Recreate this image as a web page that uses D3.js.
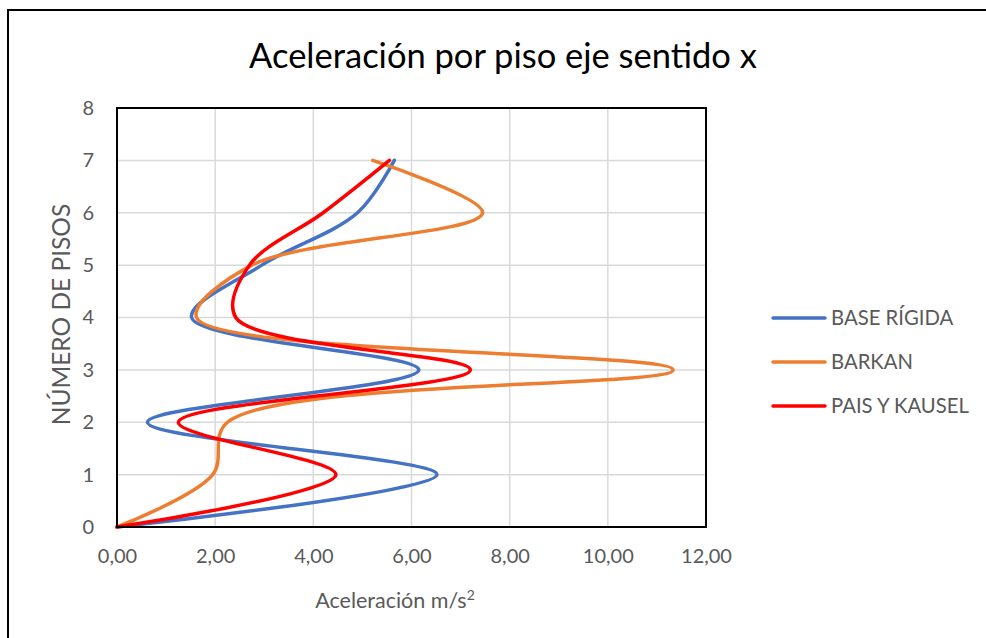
<!DOCTYPE html>
<html>
<head>
<meta charset="utf-8">
<script src="https://cdn.jsdelivr.net/npm/d3@7"></script>
<style>
  html, body { margin: 0; padding: 0; background: #fff; }
  svg { display: block; }
  text { font-family: Lato, "Open Sans", sans-serif; }
</style>
</head>
<body>
<svg id="chart" width="986" height="638"></svg>
<script>
// ---- data ----
const floors = [0, 1, 2, 3, 4, 5, 6, 7];
const baseRigida = [0, 6.52, 0.62, 6.15, 1.52, 2.95, 4.9, 5.65];
const barkan     = [0, 1.95, 2.25, 11.33, 1.62, 2.75, 7.45, 5.21];
const paisKausel = [0, 4.46, 1.25, 7.2, 2.42, 2.7, 4.2, 5.55];
const seriesNames = ["BASE RÍGIDA", "BARKAN", "PAIS Y KAUSEL"];
const xTicks = [0, 2, 4, 6, 8, 10, 12];
const yTicks = [0, 1, 2, 3, 4, 5, 6, 7, 8];
const title = "Aceleración por piso eje sentido x";
const xTitle = "Aceleración m/s";
const yTitle = "NÚMERO DE PISOS";

const colors = ["#4472C4", "#ED7D31", "#FF0000"];
const seriesValues = [baseRigida, barkan, paisKausel];

const svg = d3.select("#chart");
const plot = { left: 117, right: 706, top: 108, bottom: 527 };

// outer frame
svg.append("rect").attr("x", 8).attr("y", 10).attr("width", 1000).attr("height", 700)
  .attr("fill", "none").attr("stroke", "#000").attr("stroke-width", 2);

const x = d3.scaleLinear().domain([0, 12]).range([plot.left, plot.right]);
const y = d3.scaleLinear().domain([0, 8]).range([plot.bottom, plot.top]);

// gridlines
const grid = svg.append("g");
grid.selectAll("line.v").data(xTicks).join("line")
  .attr("x1", d => x(d)).attr("x2", d => x(d))
  .attr("y1", plot.top).attr("y2", plot.bottom)
  .attr("stroke", "#d9d9d9").attr("stroke-width", 1.5);
grid.selectAll("line.h").data(yTicks).join("line")
  .attr("x1", plot.left).attr("x2", plot.right)
  .attr("y1", d => y(d)).attr("y2", d => y(d))
  .attr("stroke", "#d9d9d9").attr("stroke-width", 1.5);

// axes (labels only)
const fmt = d => d.toFixed(2).replace(".", ",");
const xAxis = svg.append("g").attr("transform", `translate(0,${plot.bottom})`)
  .call(d3.axisBottom(x).tickValues(xTicks).tickFormat(fmt).tickSize(0).tickPadding(22));
const yAxis = svg.append("g").attr("transform", `translate(${plot.left},0)`)
  .call(d3.axisLeft(y).tickValues(yTicks).tickFormat(d3.format("d")).tickSize(0).tickPadding(23));
[xAxis, yAxis].forEach(a => {
  a.select(".domain").remove();
  a.selectAll("text").attr("fill", "#595959").style("font-size", "20px")
    .style("font-family", "Lato, sans-serif");
});

// lines
const line = d3.line()
  .x(d => x(d[0])).y(d => y(d[1]))
  .curve(d3.curveCatmullRom.alpha(0.5));
seriesValues.forEach((vals, i) => {
  const pts = floors.map((f, j) => [vals[j], f]);
  svg.append("path").datum(pts).attr("d", line)
    .attr("fill", "none").attr("stroke", colors[i]).attr("stroke-width", 3.5)
    .attr("stroke-linejoin", "round").attr("stroke-linecap", "round");
});

// plot border
svg.append("rect").attr("x", plot.left).attr("y", plot.top)
  .attr("width", plot.right - plot.left).attr("height", plot.bottom - plot.top)
  .attr("fill", "none").attr("stroke", "#000").attr("stroke-width", 2);

// title
svg.append("text").attr("x", 503).attr("y", 68).attr("text-anchor", "middle")
  .attr("fill", "#000").style("font-size", "34.5px").text(title);

// x title
const xt = svg.append("text").attr("x", 395).attr("y", 608).attr("text-anchor", "middle")
  .attr("fill", "#595959").style("font-size", "21.5px");
xt.append("tspan").text(xTitle);
xt.append("tspan").attr("dy", -8).style("font-size", "14px").text("2");

// y title
svg.append("text").attr("transform", `translate(70,${(plot.top + plot.bottom) / 2 - 3}) rotate(-90)`)
  .attr("text-anchor", "middle").attr("fill", "#595959").style("font-size", "24.5px").text(yTitle);

// legend
const legY = [318, 362, 406];
seriesNames.forEach((n, i) => {
  svg.append("line").attr("x1", 773).attr("x2", 825).attr("y1", legY[i]).attr("y2", legY[i])
    .attr("stroke", colors[i]).attr("stroke-width", 3.5).attr("stroke-linecap", "round");
  svg.append("text").attr("x", 831).attr("y", legY[i] + 7).attr("fill", "#595959")
    .style("font-size", "20.3px").text(n);
});
</script>
</body>
</html>
